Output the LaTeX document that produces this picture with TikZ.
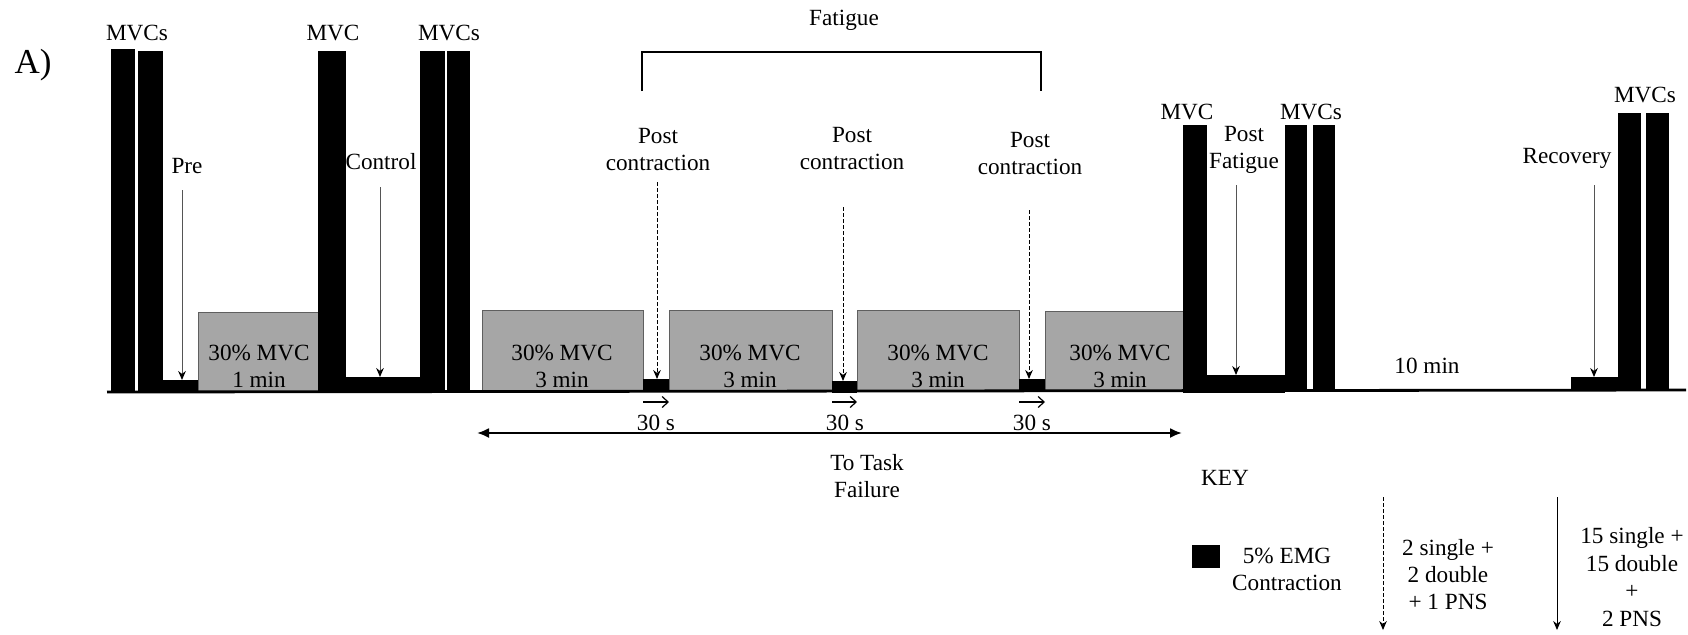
\documentclass[tikz,border=0pt]{standalone}
\usepackage{fontspec}
\setmainfont{Liberation Serif}
\usetikzlibrary{arrows.meta}
\definecolor{holdgray}{RGB}{166,166,166}
\definecolor{holdedge}{RGB}{95,95,95}
\definecolor{pointgray}{RGB}{85,85,85}
\tikzset{mvc bar/.style={fill=black},
    emg block/.style={fill=black},
    hold box/.style={fill=holdgray, draw=holdedge, line width=0.5pt},
    stim arrow/.style={draw=pointgray, line width=0.5pt,
      -{Stealth[length=4.5pt,width=3.8pt,black]}},
    stim dashed/.style={draw=black, line width=0.5pt, dash pattern=on 1.8pt off 1.2pt,
      -{Stealth[length=4.5pt,width=3.8pt]}},
    rest arrow/.style={line width=0.6pt, -{Straight Barb[length=3pt,width=5.5pt]}},
}

\begin{document}
\begin{tikzpicture}[x=0.5pt, y=-0.5pt, font=\fontsize{11.6}{13.5}\selectfont,
                    every node/.style={align=center, inner sep=0pt}]
                    \useasboundingbox (0,0) rectangle (1688,634);
                    %Pre MVCs, 1 min hold and control MVCs:
                        \fill[mvc bar] (111,49) rectangle (135,392);
                        \fill[mvc bar] (138,51) rectangle (163,392);
                        \fill[emg block] (163,380) rectangle (198,392);
                        \filldraw[hold box] (198,312) rectangle (318,391);
                        \fill[mvc bar] (318,51) rectangle (346,392);
                        \fill[emg block] (346,377) rectangle (420,392);
                        \fill[mvc bar] (420,51) rectangle (445,392);
                        \fill[mvc bar] (447,51) rectangle (470,392);
                    %Fatiguing holds with 30 s breaks:
                        \filldraw[hold box] (482,310) rectangle (643,391);
                        \fill[emg block] (643,379) rectangle (669,392);
                        \filldraw[hold box] (669,310) rectangle (832,391);
                        \fill[emg block] (832,381) rectangle (857,393);
                        \filldraw[hold box] (857,310) rectangle (1019,391);
                        \fill[emg block] (1019,379) rectangle (1045,392);
                        \filldraw[hold box] (1045,311) rectangle (1183,391);
                    %Post fatigue and recovery MVCs:
                        \fill[mvc bar] (1183,125) rectangle (1207,393);
                        \fill[emg block] (1207,375) rectangle (1285,393);
                        \fill[mvc bar] (1285,125) rectangle (1307,391);
                        \fill[mvc bar] (1313,125) rectangle (1335,391);
                        \fill[emg block] (1571,377) rectangle (1618,390);
                        \fill[mvc bar] (1618,113) rectangle (1641,390);
                        \fill[mvc bar] (1646,113) rectangle (1669,390);
                    %Baseline:
                        \draw[line width=1.4pt] (107,392) -- (1686,390);
                    %Labels on top:
                        \node (panel) at (33,65) {\fontsize{17.5}{20}\selectfont A)};
                        \node (mvcsa) at (137,33) {MVCs};
                        \node (mvca) at (333,33) {MVC};
                        \node (mvcsb) at (449,33) {MVCs};
                        \node (mvcb) at (1187,112) {MVC};
                        \node (mvcsc) at (1311,112) {MVCs};
                        \node (mvcsd) at (1645,95) {MVCs};
                        \node (fatigue) at (844,20) {Fatigue};
                        \draw[line width=0.6pt] (642,91) -- (642,52) -- (1041,52) -- (1041,91);
                    %Hold texts:
                        \node (hold) at (259,366) {30\% MVC\\1 min};
                        \node (holda) at (562,366) {30\% MVC\\3 min};
                        \node (holdb) at (750,366) {30\% MVC\\3 min};
                        \node (holdc) at (938,366) {30\% MVC\\3 min};
                        \node (holdd) at (1120,366) {30\% MVC\\3 min};
                        \node (rest) at (1427,366) {10 min};
                    %Stimulation points:
                        \node (pre) at (187,166) {Pre};
                        \node (control) at (381,162) {Control};
                        \node (posta) at (658,150) {Post\\contraction};
                        \node (postb) at (852,149) {Post\\contraction};
                        \node (postc) at (1030,154) {Post\\contraction};
                        \node (postfat) at (1244,150) {Post\\Fatigue};
                        \node (recov) at (1567,158) {Recovery};
                        \coordinate (prea) at (182,190);   \coordinate (preb) at (182,380);
                        \coordinate (cona) at (380,187);   \coordinate (conb) at (380,377);
                        \coordinate (pfa) at (1236,185);   \coordinate (pfb) at (1236,375);
                        \coordinate (reca) at (1594,185);  \coordinate (recb) at (1594,377);
                        \coordinate (paa) at (657,182);    \coordinate (pab) at (657,379);
                        \coordinate (pba) at (843,207);    \coordinate (pbb) at (843,381);
                        \coordinate (pca) at (1029,210);   \coordinate (pcb) at (1029,379);
                        \draw[stim arrow] (prea) -- (preb);
                        \draw[stim arrow] (cona) -- (conb);
                        \draw[stim arrow] (pfa) -- (pfb);
                        \draw[stim arrow] (reca) -- (recb);
                        \draw[stim dashed] (paa) -- (pab);
                        \draw[stim dashed] (pba) -- (pbb);
                        \draw[stim dashed] (pca) -- (pcb);
                    %30 s breaks and task failure:
                        \coordinate (ra) at (643,402);   \coordinate (rb) at (669,402);
                        \coordinate (rc) at (832,402);   \coordinate (rd) at (857,402);
                        \coordinate (re) at (1019,402);  \coordinate (rf) at (1045,402);
                        \draw[rest arrow] (ra) -- (rb);
                        \draw[rest arrow] (rc) -- (rd);
                        \draw[rest arrow] (re) -- (rf);
                        \node (secsa) at (656,423) {30 s};
                        \node (secsb) at (845,423) {30 s};
                        \node (secsc) at (1032,423) {30 s};
                        \coordinate (tfl) at (477,433);  \coordinate (tfr) at (1182,433);
                        \draw[line width=1pt, {Latex[length=6pt,width=5pt]}-{Latex[length=6pt,width=5pt]}] (tfl) -- (tfr);
                        \node (failure) at (867,476) {To Task\\Failure};
                    %Key:
                        \node (key) at (1225,478) {KEY};
                        \fill[emg block] (1192,545) rectangle (1220,568);
                        \node (keyemg) at (1287,569) {5\% EMG\\Contraction};
                        \coordinate (kda) at (1383,497);  \coordinate (kdb) at (1383,630);
                        \coordinate (ksa) at (1557,497);  \coordinate (ksb) at (1557,630);
                        \draw[stim dashed] (kda) -- (kdb);
                        \draw[stim arrow, draw=black] (ksa) -- (ksb);
                        \node (keyshort) at (1448,575) {2 single +\\2 double\\+ 1 PNS};
                        \node[font=\fontsize{11.6}{13.8}\selectfont] (keylong) at (1632,577) {15 single +\\15 double\\+\\2 PNS};
                \end{tikzpicture}
\end{document}
